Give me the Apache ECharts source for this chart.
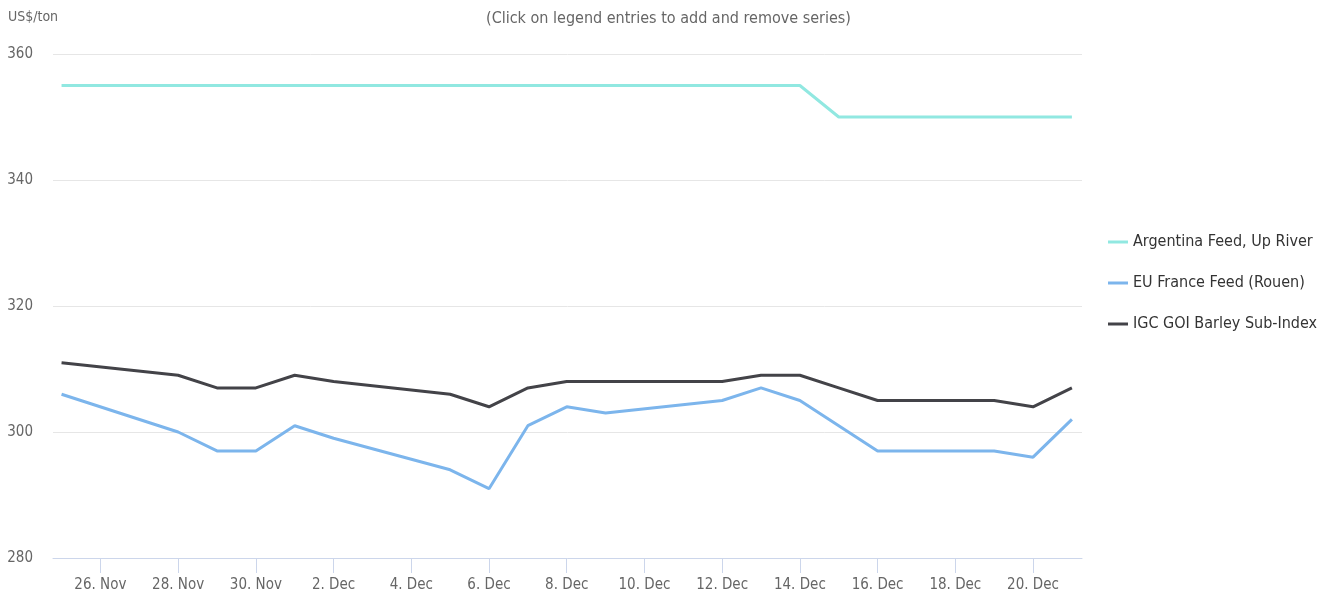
<!DOCTYPE html>
<html>
<head>
<meta charset="utf-8">
<title>Barley prices</title>
<script src="https://cdn.jsdelivr.net/npm/echarts@6/dist/echarts.min.js"></script>
<style>
  html, body { margin: 0; padding: 0; background: #fff; }
  #chart { width: 1337px; height: 597px; }
</style>
</head>
<body>
<div id="chart"></div>
<script>
'use strict';

// trading days (weekends skipped)
const dates = [
  '2022-11-25', '2022-11-28', '2022-11-29', '2022-11-30', '2022-12-01', '2022-12-02',
  '2022-12-05', '2022-12-06', '2022-12-07', '2022-12-08', '2022-12-09',
  '2022-12-12', '2022-12-13', '2022-12-14', '2022-12-15', '2022-12-16',
  '2022-12-19', '2022-12-20', '2022-12-21'
];
const argentinaFeed = [355, 355, 355, 355, 355, 355, 355, 355, 355, 355, 355, 355, 355, 355, 350, 350, 350, 350, 350];
const euFranceFeed = [306, 300, 297, 297, 301, 299, 294, 291, 301, 304, 303, 305, 307, 305, 301, 297, 297, 296, 302];
const igcBarleyIndex = [311, 309, 307, 307, 309, 308, 306, 304, 307, 308, 308, 308, 309, 309, 307, 305, 305, 304, 307];
const tickDates = [
  '2022-11-26', '2022-11-28', '2022-11-30', '2022-12-02', '2022-12-04', '2022-12-06', '2022-12-08',
  '2022-12-10', '2022-12-12', '2022-12-14', '2022-12-16', '2022-12-18', '2022-12-20'
];
const seriesNames = ['Argentina Feed, Up River', 'EU France Feed (Rouen)', 'IGC GOI Barley Sub-Index'];
const seriesColors = ['#91e8e1', '#7cb5ec', '#434348'];
const monthNames = ['Jan', 'Feb', 'Mar', 'Apr', 'May', 'Jun', 'Jul', 'Aug', 'Sep', 'Oct', 'Nov', 'Dec'];

const DAY = 86400000;
const FONT = '"Liberation Sans Narrow", "DejaVu Sans Condensed", sans-serif';

(function () {
  const times = dates.map((d) => Date.parse(d));
  const ticks = tickDates.map((d) => Date.parse(d));
  const pair = (vals) => times.map((t, i) => [t, vals[i]]);

  const chart = echarts.init(document.getElementById('chart'), null, { renderer: 'canvas' });

  chart.setOption({
    animation: false,
    textStyle: { fontFamily: FONT },
    title: [{
      text: '(Click on legend entries to add and remove series)',
      left: 'center',
      top: 6,
      textStyle: { fontFamily: FONT, fontSize: 16, fontWeight: 'normal', color: '#666666' }
    }, {
      text: 'US$/ton',
      left: 3,
      top: 5,
      textStyle: { fontFamily: FONT, fontSize: 14, fontWeight: 'normal', color: '#666666' }
    }],
    legend: {
      orient: 'vertical',
      left: 1103,
      top: 227,
      itemGap: 21,
      itemWidth: 20,
      itemHeight: 3,
      icon: 'rect',
      textStyle: { fontFamily: FONT, fontSize: 16, color: '#333333', lineHeight: 20 },
      data: seriesNames
    },
    grid: { left: 53, right: 255, top: 54, bottom: 39, containLabel: false },
    xAxis: {
      type: 'value',
      min: times[0] - 0.22 * DAY,
      max: times[times.length - 1] + 0.26 * DAY,
      axisLine: { show: true, lineStyle: { color: '#ccd6eb', width: 1 } },
      axisTick: { show: true, length: 15, lineStyle: { color: '#ccd6eb' }, customValues: ticks },
      axisLabel: {
        customValues: ticks,
        color: '#666666',
        fontSize: 15,
        fontFamily: FONT,
        margin: 20,
        formatter: (value) => {
          const d = new Date(value);
          return d.getUTCDate() + '. ' + monthNames[d.getUTCMonth()];
        }
      },
      splitLine: { show: false }
    },
    yAxis: {
      type: 'value',
      min: 280,
      max: 360,
      interval: 20,
      axisLine: { show: false },
      axisTick: { show: false },
      axisLabel: { color: '#666666', fontSize: 15, fontFamily: FONT, margin: 20 },
      splitLine: { lineStyle: { color: '#e6e6e6', width: 1 } }
    },
    series: [argentinaFeed, euFranceFeed, igcBarleyIndex].map((vals, i) => ({
      name: seriesNames[i],
      type: 'line',
      data: pair(vals),
      showSymbol: false,
      symbol: 'none',
      color: seriesColors[i],
      lineStyle: { width: 3, color: seriesColors[i] },
      emphasis: { disabled: true }
    }))
  });

  window.addEventListener('resize', () => chart.resize());
})();
</script>
</body>
</html>
